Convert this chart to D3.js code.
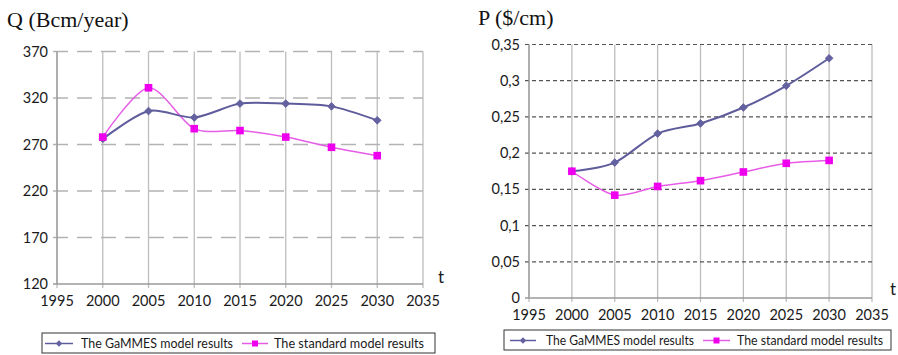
<!DOCTYPE html>
<html><head><meta charset="utf-8">
<script src="https://cdn.jsdelivr.net/npm/d3@7"></script>
<style>
html,body{margin:0;padding:0;background:#fff;}
svg{display:block;}
</style></head>
<body>
<svg id="c" width="898" height="355"></svg>
<script>
const years = [2000, 2005, 2010, 2015, 2020, 2025, 2030];
const xTicks = [1995, 2000, 2005, 2010, 2015, 2020, 2025, 2030, 2035];
const qGammes = [276, 306, 299, 314, 314, 311, 296];
const qStandard = [278, 331, 287, 285, 278, 267, 258];
const qTicks = [120, 170, 220, 270, 320, 370];
const pGammes = [0.175, 0.187, 0.227, 0.241, 0.263, 0.293, 0.331];
const pStandard = [0.175, 0.142, 0.154, 0.162, 0.174, 0.186, 0.190];
const pTicks = [0, 0.05, 0.1, 0.15, 0.2, 0.25, 0.3, 0.35];
const seriesNames = ["The GaMMES model results", "The standard model results"];
const colGam = "#5f5c9c", colStd = "#ee00ee";

const svg = d3.select("#c");
const tickFont = "Lato, 'Open Sans', sans-serif";

function panel(o) {
  const g = svg.append("g");
  const x = d3.scaleLinear().domain([1995, 2035]).range([o.x0, o.x1]);
  const y = d3.scaleLinear().domain(o.yDomain).range([o.y1, o.y0]);
  // vertical grid
  g.selectAll(".vg").data(xTicks).join("line")
    .attr("x1", d => x(d)).attr("x2", d => x(d))
    .attr("y1", o.y0).attr("y2", o.y1 + 4)
    .attr("stroke", "#bdbdbd").attr("stroke-width", 1.3);
  // horizontal dashed grid
  g.selectAll(".hg").data(o.yTicks.filter(d => d !== o.yDomain[0])).join("line")
    .attr("x1", o.x0 - 4).attr("x2", o.x1)
    .attr("y1", d => y(d)).attr("y2", d => y(d))
    .attr("stroke", o.dashColor).attr("stroke-width", o.dashWidth)
    .attr("stroke-dasharray", o.dash);
  // axes
  g.append("line").attr("x1", o.x0 - 4).attr("x2", o.x1).attr("y1", o.y1).attr("y2", o.y1)
    .attr("stroke", "#9a9a9a").attr("stroke-width", 1.3);
  g.append("line").attr("x1", o.x0).attr("x2", o.x0).attr("y1", o.y0).attr("y2", o.y1)
    .attr("stroke", "#9a9a9a").attr("stroke-width", 1.3);
  // y labels
  g.selectAll(".yl").data(o.yTicks).join("text")
    .attr("x", o.x0 - 9).attr("y", d => y(d) + 5)
    .attr("text-anchor", "end").attr("font-family", tickFont).attr("font-size", 14.5)
    .attr("fill", "#1a1a1a").text(d => o.fmt(d));
  // x labels
  g.selectAll(".xl").data(xTicks).join("text")
    .attr("x", d => x(d)).attr("y", o.y1 + o.xLabDy)
    .attr("text-anchor", "middle").attr("font-family", tickFont).attr("font-size", 14.5)
    .attr("fill", "#1a1a1a").text(d => d);
  // t label
  g.append("text").attr("x", o.tx).attr("y", o.ty).attr("font-family", tickFont)
    .attr("font-size", 17).attr("fill", "#1a1a1a").text("t");
  // title
  g.append("text").attr("x", o.titleX).attr("y", o.titleY)
    .attr("font-family", "'Liberation Serif', 'Times New Roman', serif")
    .attr("font-size", 22).attr("fill", "#111").text(o.title);

  const line = d3.line().x((d, i) => x(years[i])).y(d => y(d)).curve(d3.curveCardinal.tension(0.15));
  g.append("path").datum(o.std).attr("d", line).attr("fill", "none")
    .attr("stroke", "#e65ce6").attr("stroke-width", 1.5);
  g.append("path").datum(o.gam).attr("d", line).attr("fill", "none")
    .attr("stroke", colGam).attr("stroke-width", 2);
  g.selectAll(".gm").data(o.gam).join("path")
    .attr("transform", (d, i) => `translate(${x(years[i])},${y(d)})`)
    .attr("d", d3.symbol(d3.symbolDiamond2, 38)).attr("fill", "#6461a0").attr("stroke", colGam).attr("stroke-width", 0.8);
  g.selectAll(".sm").data(o.std).join("rect")
    .attr("x", (d, i) => x(years[i]) - 3.8).attr("y", d => y(d) - 3.8)
    .attr("width", 7.6).attr("height", 7.6).attr("fill", colStd);

  // legend
  const lg = g.append("g");
  lg.append("rect").attr("x", o.lx).attr("y", o.ly).attr("width", o.lw).attr("height", 20)
    .attr("fill", "#fff").attr("stroke", "#333").attr("stroke-width", 1);
  const cy = o.ly + 10.5;
  o.items.forEach((it, k) => {
    lg.append("line").attr("x1", it.l0).attr("x2", it.l1).attr("y1", cy).attr("y2", cy)
      .attr("stroke", k ? "#e65ce6" : colGam).attr("stroke-width", 1.5);
    const mx = (it.l0 + it.l1) / 2;
    if (k === 0) lg.append("path").attr("transform", `translate(${mx},${cy})`)
      .attr("d", d3.symbol(d3.symbolDiamond2, 26)).attr("fill", "#6461a0");
    else lg.append("rect").attr("x", mx - 3).attr("y", cy - 3).attr("width", 6).attr("height", 6).attr("fill", colStd);
    lg.append("text").attr("x", it.tx).attr("y", cy + 4.5).attr("font-family", tickFont)
      .attr("font-size", 13).attr("fill", "#1a1a1a")
      .attr("textLength", it.tw).attr("lengthAdjust", "spacingAndGlyphs")
      .text(seriesNames[k]);
  });
}

panel({x0: 57, x1: 423, y0: 51.5, y1: 284, yDomain: [120, 370], yTicks: qTicks,
  fmt: d => d, gam: qGammes, std: qStandard, dashColor: "#b3b3b3", dashWidth: 1.6, dash: "15,9",
  xLabDy: 22, tx: 438, ty: 283, titleX: 7, titleY: 27, title: "Q (Bcm/year)",
  lx: 42, ly: 333, lw: 393,
  items: [{l0: 45, l1: 73, tx: 81, tw: 152}, {l0: 242, l1: 268, tx: 274, tw: 150}]});
panel({x0: 529, x1: 872, y0: 44.5, y1: 298, yDomain: [0, 0.35], yTicks: pTicks,
  fmt: d => String(d).replace(".", ","), gam: pGammes, std: pStandard, dashColor: "#555", dashWidth: 1.2, dash: "4,3",
  xLabDy: 22, tx: 890, ty: 295, titleX: 478, titleY: 25, title: "P ($/cm)",
  lx: 504, ly: 330, lw: 387,
  items: [{l0: 510, l1: 536, tx: 546, tw: 148}, {l0: 703, l1: 730, tx: 737, tw: 146}]});
</script>
</body></html>
